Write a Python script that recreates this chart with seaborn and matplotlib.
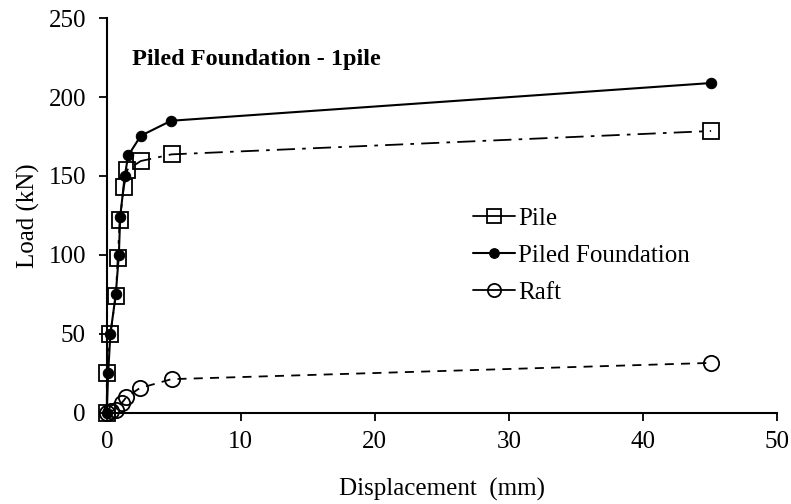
import matplotlib
matplotlib.use("Agg")
import matplotlib.pyplot as plt
import seaborn as sns

pile_x = [0, 0.0, 0.27, 0.67, 0.82, 0.97, 1.27, 1.54, 2.54, 4.83, 45.1]
pile_y = [0, 25, 50, 74, 98, 122, 143, 154, 159.5, 163.7, 178.5]

piled_x = [0, 0.1, 0.27, 0.67, 0.9, 1.0, 1.34, 1.6, 2.54, 4.8, 45.1]
piled_y = [0, 25, 50, 75, 100, 124, 150, 163, 175.5, 185, 208.9]

raft_x = [0, 0.3, 0.72, 1.1, 1.47, 2.46, 4.83, 45.1]
raft_y = [0, 1, 2, 6, 10, 15.6, 21.3, 31.6]

x_ticks = [0, 10, 20, 30, 40, 50]
y_ticks = [0, 50, 100, 150, 200, 250]

sns.set_theme(style="white")
plt.rcParams['font.family'] = ['Liberation Serif', 'DejaVu Serif']

fig = plt.figure(figsize=(7.91, 5.04), dpi=100)
ax = fig.add_axes([0.135, 0.181, 0.847, 0.783])

common = dict(ax=ax, sort=False, estimator=None, color='black', clip_on=False)
sns.lineplot(x=pile_x, y=pile_y, lw=1.3,
             linestyle=(0, (10, 4, 2, 4)), marker='s', markersize=11,
             markerfacecolor='none', markeredgecolor='black', markeredgewidth=1.3,
             label='Pile', **common)
sns.lineplot(x=piled_x, y=piled_y, lw=1.5,
             linestyle='-', marker='o', markersize=7.5,
             markerfacecolor='black', markeredgecolor='black',
             label='Piled Foundation', **common)
sns.lineplot(x=raft_x, y=raft_y, lw=1.3,
             linestyle=(0, (5, 4)), marker='o', markersize=11,
             markerfacecolor='none', markeredgecolor='black', markeredgewidth=1.3,
             label='Raft', **common)

ax.set_xlim(0, 50)
ax.set_ylim(0, 250)
ax.set_xticks(x_ticks)
ax.set_yticks(y_ticks)
ax.tick_params(axis='both', direction='out', length=6, width=1.3, color='black',
               labelsize=18, labelcolor='black', bottom=True, left=True)
ax.tick_params(axis='y', pad=9)
ax.tick_params(axis='x', pad=7)
for s in ['top', 'right']:
    ax.spines[s].set_visible(False)
for s in ['left', 'bottom']:
    ax.spines[s].set_color('black')
    ax.spines[s].set_linewidth(1.5)

ax.set_xlabel('Displacement  (mm)', fontsize=18, color='black', labelpad=18)
ax.set_ylabel('Load (kN)', fontsize=18, color='black', labelpad=6)

ax.text(1.9, 224, 'Piled Foundation - 1pile', fontsize=17.5, fontweight='bold',
        color='black', va='center', ha='left')

leg = ax.legend(loc='upper left', bbox_to_anchor=(0.546, 0.52), frameon=False,
                fontsize=18, handlelength=1.7, handletextpad=0.12, labelspacing=0.58,
                borderpad=0, borderaxespad=0)
for t in leg.get_texts():
    t.set_color('black')
sizes = [9.5, 7, 9.5]
for h, ms in zip(leg.legend_handles, sizes):
    h.set_markersize(ms)
    h.set_linestyle('-')

fig.savefig('out.png', dpi=100, facecolor='white')
